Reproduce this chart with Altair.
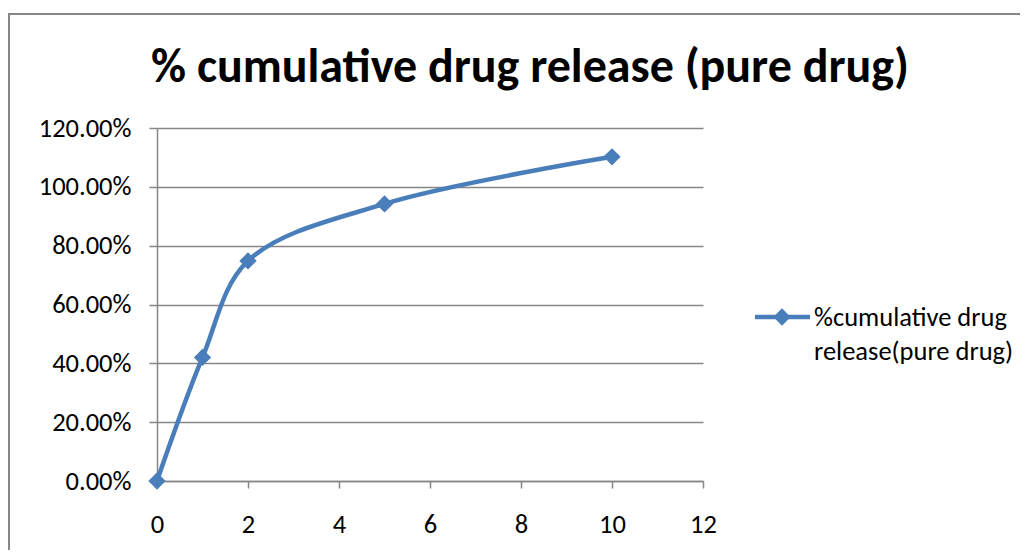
import altair as alt
import pandas as pd

# ---- data ----
time_hours = [0, 1, 2, 5, 10]
release = [0.0, 0.42, 0.748, 0.942, 1.102]
x_ticks = [0, 2, 4, 6, 8, 10, 12]
y_ticks = [0.0, 0.2, 0.4, 0.6, 0.8, 1.0, 1.2]
title_text = "% cumulative drug release (pure drug)"
legend_lines = ["%cumulative drug", "release(pure drug)"]

df = pd.DataFrame({"t": time_hours, "r": release})
one = pd.DataFrame({"k": [0]})

W, H = 546, 353
FONT = "Carlito, Calibri, Liberation Sans, sans-serif"
BLUE = "#4A7EBB"
GRAY = "#868686"
LBL = 26.5

x_enc = alt.X("t:Q", scale=alt.Scale(domain=[0, 12], nice=False),
              axis=alt.Axis(values=x_ticks, title=None, grid=False, tickSize=7,
                            labelPadding=23, labelFlush=False, format="d"))
y_enc = alt.Y("r:Q", scale=alt.Scale(domain=[0, 1.2], nice=False),
              axis=alt.Axis(values=y_ticks, title=None, grid=True, format=".2%",
                            tickSize=8, labelPadding=18, labelFlush=False,
                            gridColor=GRAY, gridWidth=1.5))

frame = alt.Chart(one).mark_rect(fill="transparent", stroke=GRAY, strokeWidth=2).encode(
    x=alt.value(-148), x2=alt.value(1000), y=alt.value(-114), y2=alt.value(600))

line = alt.Chart(df).mark_line(interpolate="catmull-rom", color=BLUE, strokeWidth=4.5).encode(
    x=x_enc, y=y_enc)
pts = alt.Chart(df).mark_point(shape="diamond", filled=True, size=300, color=BLUE, opacity=1).encode(
    x="t:Q", y="r:Q")

title = alt.Chart(one).mark_text(text=title_text, font=FONT, fontSize=48, fontWeight="bold",
                                 align="center", baseline="middle", color="black").encode(
    x=alt.value(373), y=alt.value(-60))

leg_rule = alt.Chart(one).mark_rule(color=BLUE, strokeWidth=4.5).encode(
    x=alt.value(598), x2=alt.value(653), y=alt.value(189))
leg_pt = alt.Chart(one).mark_point(shape="diamond", filled=True, size=300, color=BLUE, opacity=1).encode(
    x=alt.value(625), y=alt.value(189))
leg_t1 = alt.Chart(one).mark_text(text=legend_lines[0], font=FONT, fontSize=LBL, align="left",
                                  baseline="middle", color="black").encode(
    x=alt.value(657), y=alt.value(190))
leg_t2 = alt.Chart(one).mark_text(text=legend_lines[1], font=FONT, fontSize=LBL, align="left",
                                  baseline="middle", color="black").encode(
    x=alt.value(657), y=alt.value(224))

chart = alt.layer(frame, line, pts, title, leg_rule, leg_pt, leg_t1, leg_t2).properties(
    width=W, height=H,
    padding={"left": 149, "top": 120, "right": 317, "bottom": 69},
    autosize=alt.AutoSizeParams(type="none"),
).configure_view(stroke="transparent").configure_axis(
    labelFont=FONT, labelFontSize=LBL, labelColor="black",
    domainColor=GRAY, domainWidth=1.5, tickColor=GRAY, tickWidth=1.5,
)

chart.save("out.html", embed_options={"renderer": "svg", "actions": False})
